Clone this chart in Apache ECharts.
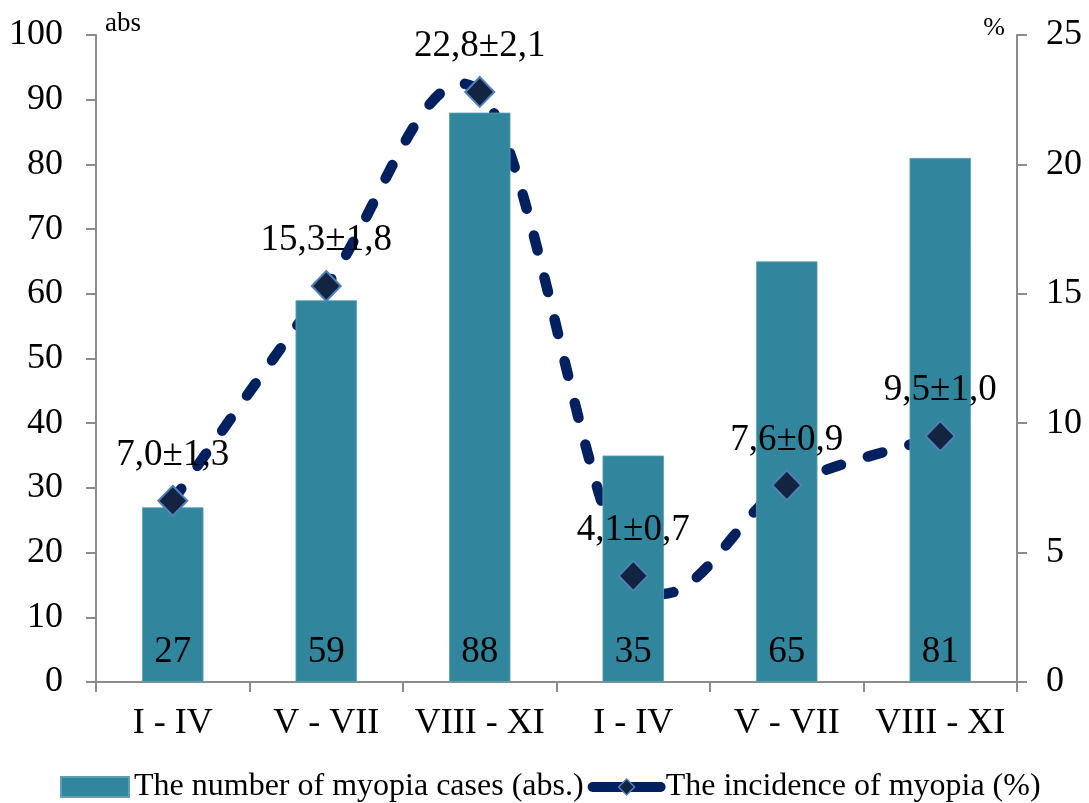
<!DOCTYPE html>
<html><head><meta charset="utf-8">
<script src="https://cdn.jsdelivr.net/npm/echarts@6/dist/echarts.min.js"></script>
<style>html,body{margin:0;padding:0;background:#fff}#c{width:1089px;height:803px}</style>
</head><body><div id="c"></div>
<script>
const categories = ['I - IV','V - VII','VIII - XI','I - IV','V - VII','VIII - XI'];
const casesAbs = [27, 59, 88, 35, 65, 81];
const incidencePct = [7.0, 15.3, 22.8, 4.1, 7.6, 9.5];
const incidenceLabels = ['7,0±1,3','15,3±1,8','22,8±2,1','4,1±0,7','7,6±0,9','9,5±1,0'];
const leftTicks = {min:0, max:100, interval:10};
const rightTicks = {min:0, max:25, interval:5};

const FONT = '"Liberation Serif", "Times New Roman", serif';
const LINE_COLOR = '#002060';

// smooth (Catmull-Rom style, as in spreadsheet smoothed lines) path through projected points
function smoothPath(api){
  const pts = incidencePct.map((v,i)=>api.coord([i, v]));
  const n = pts.length;
  let d = 'M' + pts[0][0] + ' ' + pts[0][1];
  for (let i=0;i<n-1;i++){
    const p0 = pts[Math.max(i-1,0)], p1 = pts[i], p2 = pts[i+1], p3 = pts[Math.min(i+2,n-1)];
    const c1 = [p1[0] + (p2[0]-p0[0])/6, p1[1] + (p2[1]-p0[1])/6];
    const c2 = [p2[0] - (p3[0]-p1[0])/6, p2[1] - (p3[1]-p1[1])/6];
    d += ' C' + c1[0] + ' ' + c1[1] + ' ' + c2[0] + ' ' + c2[1] + ' ' + p2[0] + ' ' + p2[1];
  }
  return d;
}

const chart = echarts.init(document.getElementById('c'), null, {renderer:'canvas'});
chart.setOption({
  animation:false,
  backgroundColor:'#fff',
  textStyle:{fontFamily:FONT},
  grid:{left:96, right:72, top:35, bottom:121},
  legend:{
    bottom:0, left:60, padding:0, itemGap:4, itemWidth:68, itemHeight:20,
    textStyle:{fontFamily:FONT, fontSize:32, color:'#000'},
    data:[
      {name:'The number of myopia cases (abs.)', icon:'rect', itemStyle:{color:'#31859C'}},
      {name:'The incidence of myopia (%)',
       lineStyle:{color:LINE_COLOR, width:10, opacity:1, type:'solid', cap:'round'},
       itemStyle:{color:'#12243F', borderColor:'#4F81BD', borderWidth:1.5}}
    ]
  },
  xAxis:{
    type:'category', data:categories,
    axisLine:{lineStyle:{color:'#8c8c8c', width:2}},
    axisTick:{show:true, interval:0, length:10, lineStyle:{color:'#8c8c8c', width:2}},
    axisLabel:{interval:0, color:'#000', fontSize:36, fontFamily:FONT, margin:24}
  },
  yAxis:[
    {type:'value', min:leftTicks.min, max:leftTicks.max, interval:leftTicks.interval,
     name:'abs', nameLocation:'end', nameGap:0,
     nameTextStyle:{fontFamily:FONT, fontSize:27, color:'#000', align:'left', verticalAlign:'bottom', padding:[0,0,-2,9]},
     axisLine:{show:true, lineStyle:{color:'#8c8c8c', width:2}},
     axisTick:{show:true, length:10, lineStyle:{color:'#8c8c8c', width:2}},
     axisLabel:{color:'#000', fontSize:36, fontFamily:FONT, margin:33},
     splitLine:{show:false}},
    {type:'value', min:rightTicks.min, max:rightTicks.max, interval:rightTicks.interval,
     name:'%', nameLocation:'end', nameGap:0,
     nameTextStyle:{fontFamily:FONT, fontSize:26, color:'#000', align:'right', verticalAlign:'bottom', padding:[0,12,-6,0]},
     axisLine:{show:true, lineStyle:{color:'#8c8c8c', width:2}},
     axisTick:{show:true, length:10, lineStyle:{color:'#8c8c8c', width:2}},
     axisLabel:{color:'#000', fontSize:36, fontFamily:FONT, margin:29},
     splitLine:{show:false}}
  ],
  series:[
    {name:'The number of myopia cases (abs.)', type:'bar', data:casesAbs, barWidth:'40%',
     itemStyle:{color:'#31859C', borderColor:'#5E9FB3', borderWidth:0.8},
     label:{show:true, position:'insideBottom', distance:11, color:'#000', fontSize:37, fontFamily:FONT}},
    {name:'incidence-curve', type:'custom', yAxisIndex:1, clip:false, silent:true, z:2,
     data:incidencePct.map((v,i)=>[i,v]),
     encode:{x:0, y:1},
     renderItem:(params, api)=>{
       if (params.dataIndex !== 0) return null;
       return {type:'path', shape:{pathData:smoothPath(api)},
         style:{fill:'none', stroke:LINE_COLOR, lineWidth:10.5, lineDash:[15,28], lineCap:'round'}};
     }},
    {name:'The incidence of myopia (%)', type:'line', yAxisIndex:1, data:incidencePct,
     symbol:'diamond', symbolSize:[29,30],
     lineStyle:{color:LINE_COLOR, width:0, opacity:0},
     itemStyle:{color:'#12243F', borderColor:'#4F81BD', borderWidth:2},
     label:{show:true, position:'top', distance:11, color:'#000', fontSize:37, fontFamily:FONT,
       formatter:p=>incidenceLabels[p.dataIndex]},
     z:3}
  ]
});
</script></body></html>
